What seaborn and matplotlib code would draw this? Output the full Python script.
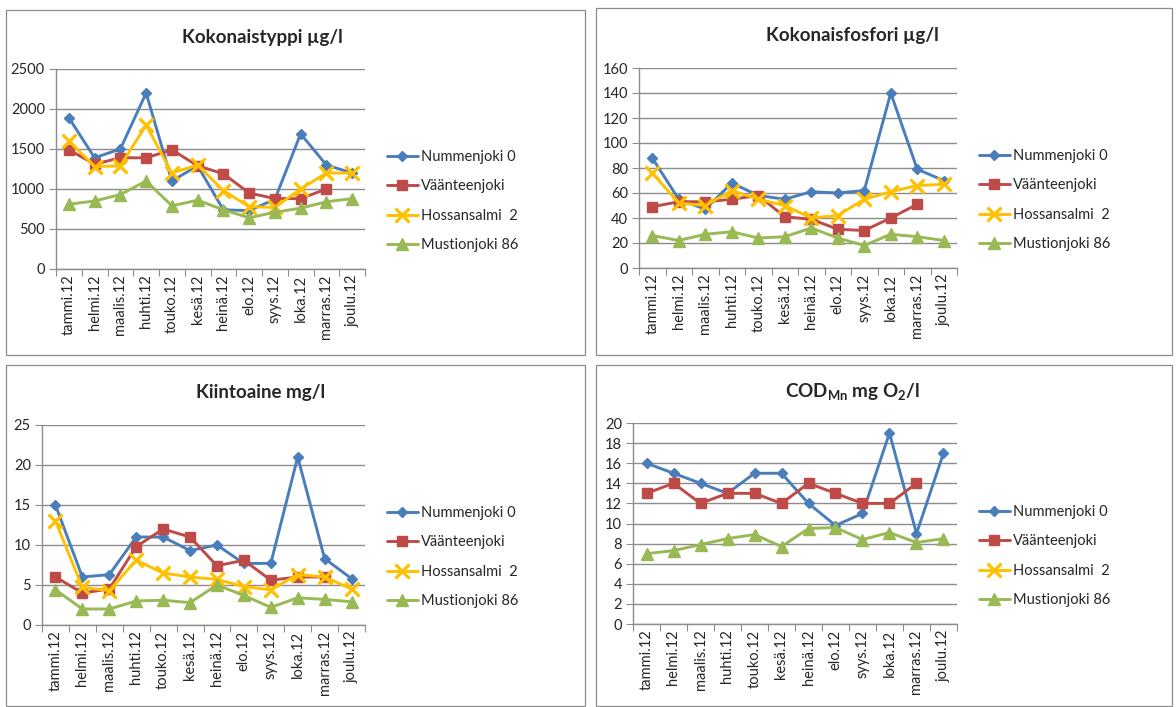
import numpy as np
import pandas as pd
import seaborn as sns
import matplotlib.pyplot as plt
from matplotlib.lines import Line2D
from matplotlib.patches import Rectangle

sns.set_style("white")
plt.rcParams['font.family'] = ['Lato', 'DejaVu Sans']

months = ['tammi.12', 'helmi.12', 'maalis.12', 'huhti.12', 'touko.12', 'kesä.12',
          'heinä.12', 'elo.12', 'syys.12', 'loka.12', 'marras.12', 'joulu.12']
sites = ['Nummenjoki 0', 'Väänteenjoki', 'Hossansalmi  2', 'Mustionjoki 86']
nan = np.nan

# Kokonaistyppi ug/l
typpi_nummen = [1890, 1390, 1500, 2200, 1100, 1290, 740, 730, 870, 1690, 1300, 1200]
typpi_vaanteen = [1490, 1310, 1390, 1390, 1490, 1290, 1190, 950, 880, 880, 1000, nan]
typpi_hossan = [1600, 1280, 1290, 1800, 1200, 1300, 980, 780, 770, 1000, 1200, 1200]
typpi_mustion = [810, 850, 930, 1100, 790, 860, 740, 640, 710, 760, 840, 880]

# Kokonaisfosfori ug/l
fosfori_nummen = [88, 55, 47, 68, 58, 55, 61, 60, 62, 140, 79, 70]
fosfori_vaanteen = [49, 53, 53, 55, 58, 41, 39, 31, 30, 40, 51, nan]
fosfori_hossan = [76, 52, 50, 62, 55, 50, 40, 42, 55, 61, 66, 67]
fosfori_mustion = [26, 22, 27, 29, 24, 25, 32, 24, 18, 27, 25, 22]

# Kiintoaine mg/l
kiinto_nummen = [15, 6, 6.3, 11, 11, 9.3, 10, 7.7, 7.7, 21, 8.3, 5.8]
kiinto_vaanteen = [6, 4, 4.5, 9.8, 12, 11, 7.4, 8.1, 5.6, 6, 6, nan]
kiinto_hossan = [13, 4.7, 4.3, 8.1, 6.5, 6, 5.7, 4.8, 4.4, 6.3, 6, 4.5]
kiinto_mustion = [4.4, 2, 2, 3, 3.1, 2.8, 5, 3.7, 2.2, 3.4, 3.2, 2.9]

# COD Mn mg O2/l
cod_nummen = [16, 15, 14, 13, 15, 15, 12, 9.8, 11, 19, 9, 17]
cod_vaanteen = [13, 14, 12, 13, 13, 12, 14, 13, 12, 12, 14, nan]
cod_hossan = [nan] * 12
cod_mustion = [7, 7.3, 7.9, 8.5, 8.9, 7.7, 9.5, 9.6, 8.4, 9.1, 8.1, 8.5]

colors = ['#4A7EBB', '#BE4B48', '#FFC000', '#98B954']
markers = ['D', 's', 'x', '^']
msizes = [5, 6.5, 10.5, 8]
mews = [1, 1, 2.3, 1]

W, H = 1176, 707
fig = plt.figure(figsize=(W / 100, H / 100), dpi=100)


def frac(l, t, r, b):
    return [l / W, 1 - b / H, (r - l) / W, (b - t) / H]


panels = [
    dict(title='Kokonaistyppi µg/l', data=[typpi_nummen, typpi_vaanteen, typpi_hossan, typpi_mustion],
         ymax=2500, step=500, box=(6, 10, 585, 355), ax=(56, 69, 365, 269), tx=262, ty=37, lx=387, ly=150),
    dict(title='Kokonaisfosfori µg/l', data=[fosfori_nummen, fosfori_vaanteen, fosfori_hossan, fosfori_mustion],
         ymax=160, step=20, box=(596, 8, 1172, 355), ax=(639, 68, 957, 268), tx=852, ty=35, lx=979, ly=149),
    dict(title='Kiintoaine mg/l', data=[kiinto_nummen, kiinto_vaanteen, kiinto_hossan, kiinto_mustion],
         ymax=25, step=5, box=(6, 365, 585, 706), ax=(42, 425, 365, 625), tx=261, ty=392, lx=387, ly=506),
    dict(title=r'COD$_{\mathregular{Mn}}$ mg O$_{\mathregular{2}}$/l',
         data=[cod_nummen, cod_vaanteen, cod_hossan, cod_mustion],
         ymax=20, step=2, box=(596, 365, 1172, 706), ax=(633, 423, 957, 624), tx=852, ty=392, lx=979, ly=505),
]

x = np.arange(len(months))
for p in panels:
    l, t, r, b = p['box']
    fig.patches.append(Rectangle((l / W, 1 - b / H), (r - l) / W, (b - t) / H, transform=fig.transFigure,
                                 fill=False, edgecolor='#8c8c8c', linewidth=0.9))
    ax = fig.add_axes(frac(*p['ax']))
    for vals, c, m, ms, mew in zip(p['data'], colors, markers, msizes, mews):
        df = pd.DataFrame({'x': x, 'y': vals}).dropna()
        if len(df):
            sns.lineplot(data=df, x='x', y='y', ax=ax, color=c, marker=m, markersize=ms,
                         markeredgewidth=mew, markeredgecolor=c, linewidth=2.1, sort=False)
    ax.set_xlim(-0.5, len(months) - 0.5)
    ax.set_ylim(0, p['ymax'])
    ax.set_yticks(np.arange(0, p['ymax'] + p['step'] / 2, p['step']))
    ax.yaxis.grid(True, color='#8c8c8c', linewidth=1)
    ax.set_axisbelow(True)
    ax.set_xticks(np.arange(-0.5, len(months), 1))
    ax.set_xticklabels([])
    ax.set_xticks(x, minor=True)
    ax.set_xticklabels(months, minor=True, rotation=90, fontsize=10.5)
    ax.tick_params(axis='x', which='major', length=5, color='#8c8c8c', direction='out', bottom=True)
    ax.tick_params(axis='x', which='minor', length=0, pad=4)
    ax.tick_params(axis='y', length=5, color='#8c8c8c', direction='out', left=True, labelsize=10.5, pad=3)
    ax.set_xlabel('')
    ax.set_ylabel('')
    for s in ['top', 'right']:
        ax.spines[s].set_visible(False)
    for s in ['left', 'bottom']:
        ax.spines[s].set_color('#8c8c8c')
        ax.spines[s].set_linewidth(1)
    fig.text(p['tx'] / W, 1 - p['ty'] / H, p['title'], ha='center', va='center',
             fontsize=13.5, fontweight='bold')
    handles = [Line2D([], [], color=c, marker=m, markersize=ms, markeredgewidth=mew, linewidth=2.1)
               for c, m, ms, mew in zip(colors, markers, msizes, mews)]
    ax.legend(handles, sites, loc='upper left', bbox_to_anchor=(p['lx'] / W, 1 - p['ly'] / H),
              bbox_transform=fig.transFigure, frameon=False, fontsize=10.5, borderpad=0,
              borderaxespad=0, handlelength=2.1, handletextpad=0.2, labelspacing=1.05)

fig.savefig('out.png', dpi=100)
